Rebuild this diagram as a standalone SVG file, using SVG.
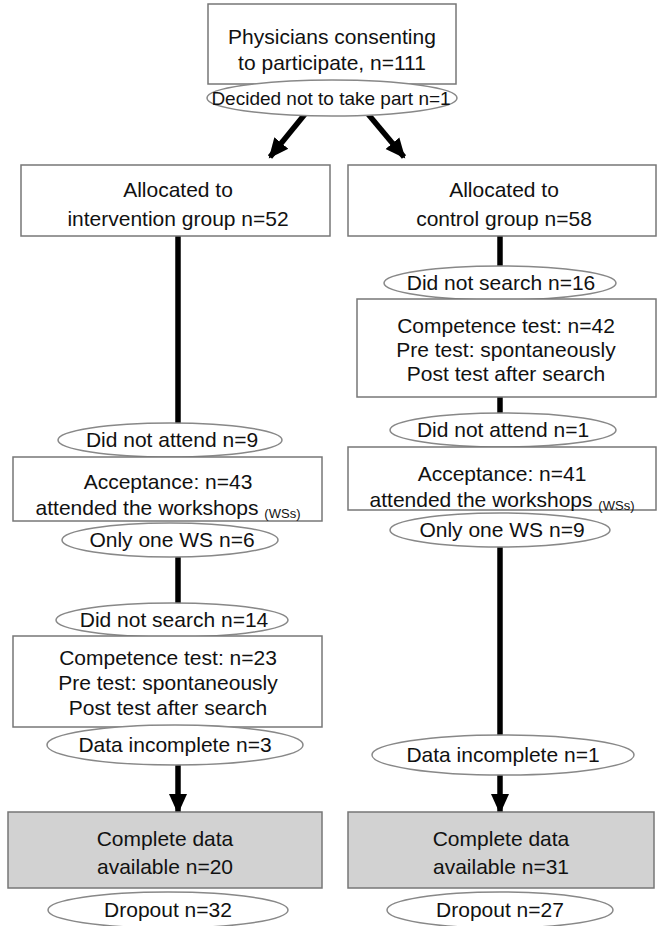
<svg xmlns="http://www.w3.org/2000/svg" width="658" height="926" viewBox="0 0 658 926">
<style>
text{font-family:"Liberation Sans",Arial,sans-serif;font-size:21px;fill:#111;text-anchor:middle}
.box{fill:#fff;stroke:#777;stroke-width:1.5}
.gbox{fill:#d2d2d2;stroke:#777;stroke-width:1.5}
.ell{fill:#fff;stroke:#888;stroke-width:1.5}
.con{stroke:#000;stroke-width:5.5;fill:none}
.sub{font-size:13px}
</style>
<defs>
<marker id="ah" markerUnits="userSpaceOnUse" markerWidth="22" markerHeight="22" viewBox="0 0 22 22" refX="18" refY="11" orient="auto">
<path d="M0,2 L20,11 L0,20 Z" fill="#000"/>
</marker>
</defs>
<rect width="658" height="926" fill="#fff"/>
<g id="connectors">
<line class="con" x1="305" y1="114" x2="270" y2="157" marker-end="url(#ah)"/>
<line class="con" x1="368" y1="114" x2="404" y2="157" marker-end="url(#ah)"/>
<line class="con" x1="178" y1="236" x2="178" y2="430"/>
<line class="con" x1="178" y1="550" x2="178" y2="610"/>
<line class="con" x1="178" y1="760" x2="178" y2="812" marker-end="url(#ah)"/>
<line class="con" x1="500" y1="236" x2="500" y2="275"/>
<line class="con" x1="500" y1="390" x2="500" y2="420"/>
<line class="con" x1="500" y1="540" x2="500" y2="745"/>
<line class="con" x1="500" y1="770" x2="500" y2="812" marker-end="url(#ah)"/>
</g>
<g id="n_start"><rect class="box" x="208" y="4" width="248" height="80"/><text x="332" y="44">Physicians consenting</text><text x="332" y="70">to participate, n=111</text></g>
<g id="n_declined"><ellipse class="ell" cx="332" cy="98" rx="125" ry="18"/><text x="331" y="105" style="font-size:19px">Decided not to take part n=1</text></g>
<g id="n_int"><rect class="box" x="21" y="165" width="309" height="71"/><text x="178" y="197">Allocated to</text><text x="178" y="226">intervention group n=52</text></g>
<g id="n_ctl"><rect class="box" x="348" y="165" width="308" height="71"/><text x="504" y="197">Allocated to</text><text x="504" y="226">control group n=58</text></g>
<g id="n_ctl_nosearch"><ellipse class="ell" cx="500" cy="283" rx="116" ry="17"/><text x="501" y="290">Did not search n=16</text></g>
<g id="n_ctl_comp"><rect class="box" x="357" y="299" width="299" height="98"/><text x="506" y="333">Competence test: n=42</text><text x="506" y="357">Pre test: spontaneously</text><text x="506" y="381">Post test after search</text></g>
<g id="n_ctl_noattend"><ellipse class="ell" cx="503" cy="430" rx="113" ry="17"/><text x="503" y="437">Did not attend n=1</text></g>
<g id="n_ctl_accept"><rect class="box" x="348" y="447" width="308" height="63"/><text x="502" y="481">Acceptance: n=41</text><text x="502" y="507">attended the workshops <tspan class="sub" dy="3">(WSs)</tspan></text></g>
<g id="n_ctl_onews"><ellipse class="ell" cx="500" cy="530" rx="110" ry="17"/><text x="502" y="537">Only one WS n=9</text></g>
<g id="n_ctl_incomplete"><ellipse class="ell" cx="503" cy="755" rx="131" ry="20"/><text x="503" y="762">Data incomplete n=1</text></g>
<g id="n_ctl_complete"><rect class="gbox" x="348" y="812" width="306" height="76"/><text x="501" y="846">Complete data</text><text x="501" y="874">available n=31</text></g>
<g id="n_ctl_dropout"><ellipse class="ell" cx="500" cy="910" rx="113" ry="18"/><text x="500" y="917">Dropout n=27</text></g>
<g id="n_int_noattend"><ellipse class="ell" cx="170" cy="440" rx="112" ry="17"/><text x="172" y="447">Did not attend n=9</text></g>
<g id="n_int_accept"><rect class="box" x="13" y="457" width="309" height="64"/><text x="168" y="489">Acceptance: n=43</text><text x="168" y="515">attended the workshops <tspan class="sub" dy="3">(WSs)</tspan></text></g>
<g id="n_int_onews"><ellipse class="ell" cx="170" cy="540" rx="108" ry="17"/><text x="172" y="547">Only one WS n=6</text></g>
<g id="n_int_nosearch"><ellipse class="ell" cx="172" cy="620" rx="116" ry="17"/><text x="174" y="627">Did not search n=14</text></g>
<g id="n_int_comp"><rect class="box" x="13" y="636" width="309" height="91"/><text x="168" y="665">Competence test: n=23</text><text x="168" y="690">Pre test: spontaneously</text><text x="168" y="715">Post test after search</text></g>
<g id="n_int_incomplete"><ellipse class="ell" cx="175" cy="745" rx="128" ry="20"/><text x="175" y="752">Data incomplete n=3</text></g>
<g id="n_int_complete"><rect class="gbox" x="8" y="812" width="314" height="76"/><text x="165" y="846">Complete data</text><text x="165" y="874">available n=20</text></g>
<g id="n_int_dropout"><ellipse class="ell" cx="168" cy="910" rx="120" ry="18"/><text x="168" y="917">Dropout n=32</text></g>
</svg>
